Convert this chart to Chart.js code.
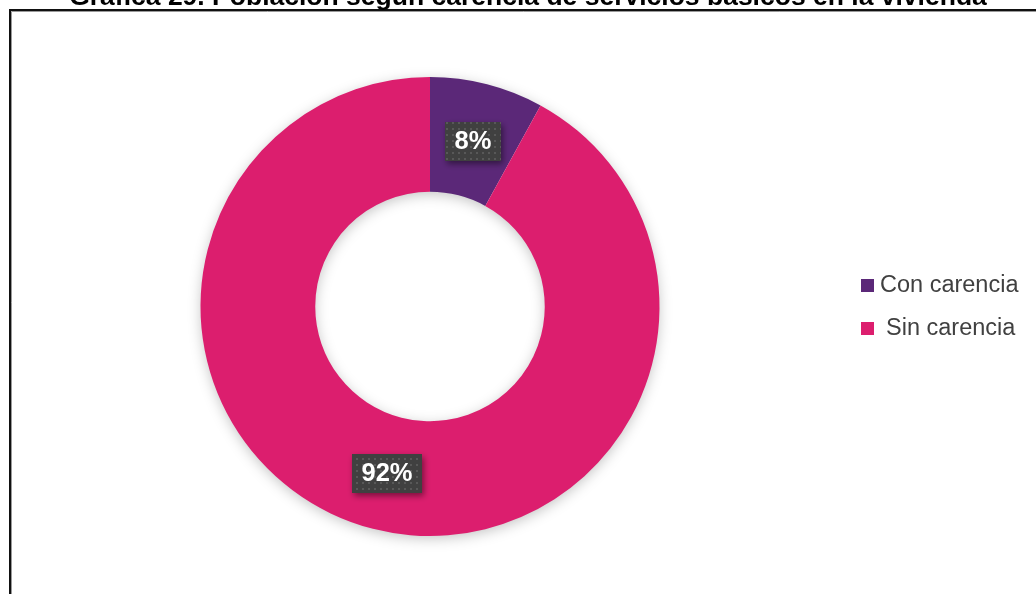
<!DOCTYPE html>
<html><head><meta charset="utf-8">
<script src="https://cdn.jsdelivr.net/npm/chart.js@4.4.1/dist/chart.umd.min.js"></script>
<style>html,body{margin:0;padding:0;background:#fff;}#wrap{width:1036px;height:594px;position:relative;}</style>
</head><body><div id="wrap"><canvas id="c" width="1036" height="594"></canvas></div>
<script>
const title = "Gráfica 29. Población según carencia de servicios básicos en la vivienda";
const categories = ["Con carencia", "Sin carencia"];
const values = [8, 92];
const colors = ["#5B2878", "#DC1E6E"];

function makePattern(ctx){
  const p = document.createElement('canvas'); p.width = 6; p.height = 6;
  const c = p.getContext('2d');
  c.fillStyle = '#404040'; c.fillRect(0,0,6,6);
  c.fillStyle = '#585858'; c.fillRect(2,2,2,2);
  return ctx.createPattern(p,'repeat');
}

const framePlugin = {
  id:'frame',
  beforeDraw(chart){
    const ctx = chart.ctx;
    ctx.save();
    ctx.fillStyle='#fff'; ctx.fillRect(0,0,chart.width,chart.height);
    ctx.strokeStyle='#9a9a9a'; ctx.lineWidth=1;
    ctx.beginPath(); ctx.moveTo(11.5,chart.height); ctx.lineTo(11.5,11.5); ctx.lineTo(chart.width,11.5); ctx.stroke();
    ctx.strokeStyle='#111'; ctx.lineWidth=2;
    ctx.beginPath(); ctx.moveTo(10,chart.height); ctx.lineTo(10,10); ctx.lineTo(chart.width,10); ctx.stroke();
    ctx.fillStyle='#000'; ctx.font='bold 26.5px "Liberation Sans", Arial, sans-serif';
    ctx.textAlign='center'; ctx.textBaseline='alphabetic';
    ctx.fillText(title, 528, 5);
    ctx.restore();
  },
  beforeDatasetsDraw(chart){
    const ctx = chart.ctx;
    const meta = chart.getDatasetMeta(0);
    const a = meta.data[0];
    ctx.save();
    ctx.shadowColor='rgba(0,0,0,0.25)'; ctx.shadowBlur=14; ctx.shadowOffsetX=0; ctx.shadowOffsetY=3;
    ctx.fillStyle='#fff';
    ctx.beginPath(); ctx.arc(a.x,a.y,a.outerRadius-1,0,Math.PI*2);
    ctx.arc(a.x,a.y,a.innerRadius+1,0,Math.PI*2,true);
    ctx.fill('evenodd');
    ctx.restore();
  },
  afterDatasetsDraw(chart){
    const ctx = chart.ctx;
    const meta = chart.getDatasetMeta(0);
    const total = values.reduce((s,v)=>s+v,0);
    const pos = [[473,141],[387,473]];
    ctx.save();
    ctx.font='bold 25.5px "Liberation Sans", Arial, sans-serif';
    meta.data.forEach((arc,i)=>{
      const txt = Math.round(values[i]/total*100)+'%';
      const w = ctx.measureText(txt).width + 19, h = 39;
      const [cx,cy] = pos[i];
      ctx.save();
      ctx.shadowColor='rgba(0,0,0,0.45)'; ctx.shadowBlur=6; ctx.shadowOffsetX=2; ctx.shadowOffsetY=3;
      ctx.fillStyle = makePattern(ctx);
      ctx.fillRect(Math.round(cx-w/2), Math.round(cy-h/2), Math.round(w), h);
      ctx.restore();
      ctx.fillStyle='#fff'; ctx.textAlign='center'; ctx.textBaseline='middle';
      ctx.fillText(txt, cx, cy+1);
    });
    ctx.font='23.5px "Liberation Sans", Arial, sans-serif';
    ctx.textAlign='left'; ctx.textBaseline='middle';
    const ly = [285, 328];
    const lx = [880, 886];
    categories.forEach((c,i)=>{
      ctx.fillStyle=colors[i];
      ctx.fillRect(861, ly[i]-6, 13, 13);
      ctx.fillStyle='#404040';
      ctx.fillText(c, lx[i], ly[i]+1);
    });
    ctx.restore();
  }
};

new Chart(document.getElementById('c'), {
  type:'doughnut',
  data:{labels:categories, datasets:[{data:values, backgroundColor:colors, borderWidth:0, hoverOffset:0}]},
  options:{
    responsive:false, animation:false, cutout:'50%',
    layout:{padding:{left:200,right:376,top:77,bottom:58}},
    plugins:{legend:{display:false}, tooltip:{enabled:false}, title:{display:false}}
  },
  plugins:[framePlugin]
});
</script></body></html>
